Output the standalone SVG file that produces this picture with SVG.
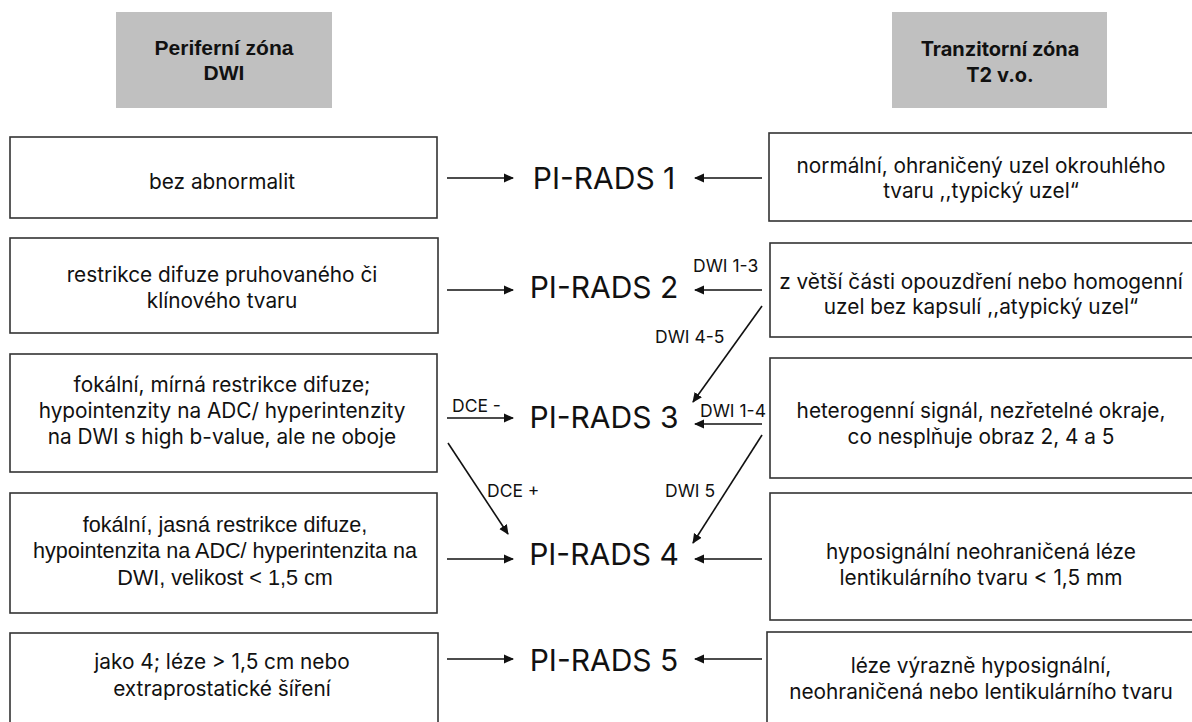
<svg xmlns="http://www.w3.org/2000/svg" width="1192" height="722" viewBox="0 0 1192 722">
<style>
.hdr{fill:#c0c0c0}
.box{fill:#fff;stroke:#333;stroke-width:1.6}
.t{font-family:Inter,"Liberation Sans",sans-serif;font-size:20.8px;fill:#111;text-anchor:middle}
.a{font-family:"Liberation Sans",Arial,sans-serif;font-size:21.6px;fill:#111;text-anchor:middle}
.h{font-family:"Liberation Sans",Arial,sans-serif;font-size:21px;font-weight:bold;fill:#111;text-anchor:middle}
.h2{font-family:Inter,"Liberation Sans",sans-serif;font-size:20px;font-weight:bold;fill:#111;text-anchor:middle}
.pr{font-family:Inter,"Liberation Sans",sans-serif;font-size:30px;fill:#111;text-anchor:middle}
.lb{font-family:Inter,"Liberation Sans",sans-serif;font-size:17.5px;fill:#111}
.c{stroke:#111;stroke-width:1.6;fill:none;marker-end:url(#ah)}
</style>
<defs>
<marker id="ah" viewBox="0 0 10 10" refX="9" refY="5" markerWidth="10" markerHeight="10" markerUnits="userSpaceOnUse" orient="auto">
<path d="M0,0.5 L10,5 L0,9.5 Z" fill="#111"/>
</marker>
</defs>
<rect width="1192" height="722" fill="#fff"/>
<g id="header-left"><rect class="hdr" x="116" y="12" width="216" height="96"/><text class="h" x="224" y="55">Periferní zóna</text><text class="h" x="224" y="80">DWI</text></g>
<g id="header-right"><rect class="hdr" x="892" y="12" width="215" height="96"/><text class="h2" x="1000" y="56">Tranzitorní zóna</text><text class="h2" x="1000" y="82">T2 v.o.</text></g>

<g id="L1"><rect class="box" x="10" y="137" width="427" height="81"/><text class="t" x="222" y="189">bez abnormalit</text></g>
<g id="L2"><rect class="box" x="10" y="238" width="428" height="95"/><text class="t" x="222" y="282">restrikce difuze pruhovaného či</text><text class="t" x="222" y="308">klínového tvaru</text></g>
<g id="L3"><rect class="box" x="10" y="354" width="427" height="118"/><text class="t" x="222" y="392">fokální, mírná restrikce difuze;</text><text class="t" x="222" y="418">hypointenzity na ADC/ hyperintenzity</text><text class="t" x="222" y="444">na DWI s high b-value, ale ne oboje</text></g>
<g id="L4"><rect class="box" x="10" y="493" width="427" height="120"/><text class="a" x="225" y="532">fokální, jasná restrikce difuze,</text><text class="a" x="225" y="558">hypointenzita na ADC/ hyperintenzita na</text><text class="a" x="225" y="585">DWI, velikost &lt; 1,5 cm</text></g>
<g id="L5"><rect class="box" x="10" y="633" width="428" height="100"/><text class="t" x="222" y="669">jako 4; léze &gt; 1,5 cm nebo</text><text class="t" x="222" y="696">extraprostatické šíření</text></g>

<g id="R1"><rect class="box" x="769" y="133" width="430" height="88"/><text class="t" x="981" y="173">normální, ohraničený uzel okrouhlého</text><text class="t" x="981" y="198">tvaru ,,typický uzel“</text></g>
<g id="R2"><rect class="box" x="770" y="243" width="430" height="94"/><text class="t" x="981" y="289">z větší části opouzdření nebo homogenní</text><text class="t" x="981" y="314">uzel bez kapsulí ,,atypický uzel“</text></g>
<g id="R3"><rect class="box" x="770" y="358" width="430" height="120"/><text class="t" x="981" y="418">heterogenní signál, nezřetelné okraje,</text><text class="t" x="981" y="444">co nesplňuje obraz 2, 4 a 5</text></g>
<g id="R4"><rect class="box" x="770" y="493" width="430" height="127"/><text class="t" x="981" y="559">hyposignální neohraničená léze</text><text class="t" x="981" y="585">lentikulárního tvaru &lt; 1,5 mm</text></g>
<g id="R5"><rect class="box" x="767" y="632" width="430" height="100"/><text class="t" x="981" y="673">léze výrazně hyposignální,</text><text class="t" x="981" y="699">neohraničená nebo lentikulárního tvaru</text></g>

<g id="P1"><text class="pr" x="604" y="189">PI-RADS 1</text></g>
<g id="P2"><text class="pr" x="604" y="298">PI-RADS 2</text></g>
<g id="P3"><text class="pr" x="604" y="428">PI-RADS 3</text></g>
<g id="P4"><text class="pr" x="604" y="565">PI-RADS 4</text></g>
<g id="P5"><text class="pr" x="604" y="671">PI-RADS 5</text></g>

<g id="connectors">
<line class="c" x1="447" y1="178" x2="513" y2="178"/>
<line class="c" x1="762" y1="178" x2="695" y2="178"/>
<line class="c" x1="447" y1="290" x2="513" y2="290"/>
<line class="c" x1="762" y1="290" x2="695" y2="290"/>
<line class="c" x1="762" y1="306" x2="693" y2="402"/>
<line class="c" x1="447" y1="418" x2="513" y2="418"/>
<line class="c" x1="762" y1="424" x2="695" y2="424"/>
<line class="c" x1="448" y1="443" x2="508" y2="534"/>
<line class="c" x1="762" y1="435" x2="693" y2="543"/>
<line class="c" x1="447" y1="559" x2="513" y2="559"/>
<line class="c" x1="762" y1="559" x2="695" y2="559"/>
<line class="c" x1="447" y1="659" x2="513" y2="659"/>
<line class="c" x1="762" y1="659" x2="695" y2="659"/>
<text class="lb" x="693" y="272">DWI 1-3</text>
<text class="lb" x="655" y="343">DWI 4-5</text>
<text class="lb" x="452" y="412">DCE -</text>
<text class="lb" x="700" y="417">DWI 1-4</text>
<text class="lb" x="487" y="497">DCE +</text>
<text class="lb" x="665" y="497">DWI 5</text>
</g>
</svg>
